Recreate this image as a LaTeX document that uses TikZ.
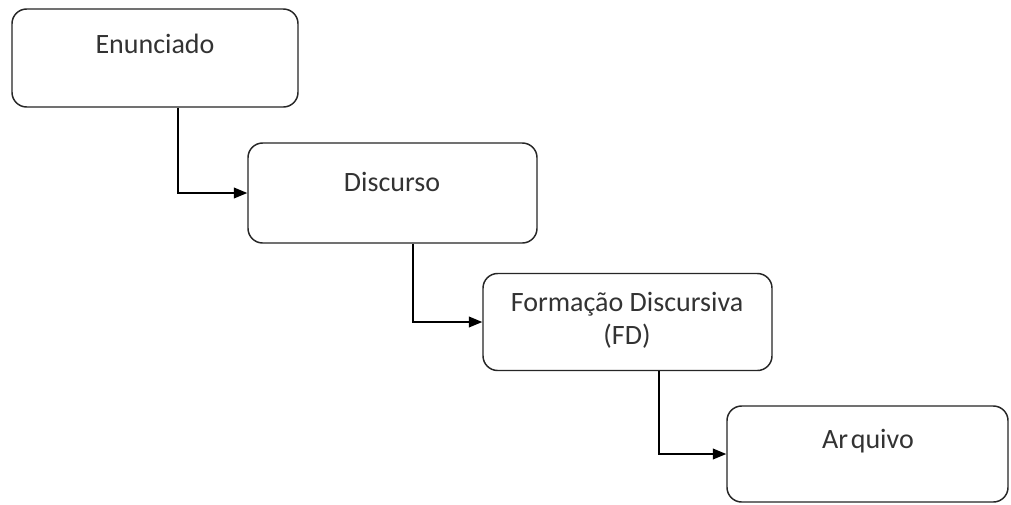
\documentclass[tikz,border=0pt]{standalone}
\usepackage{fontspec}
\setmainfont{Carlito}
\usetikzlibrary{arrows.meta,calc}
\begin{document}
\begin{tikzpicture}[x=0.75pt,y=-0.75pt,
  box/.style={draw=black!85,line width=1.1pt,rounded corners=11pt,inner sep=0pt},
  lbl/.style={font=\fontsize{21}{25}\selectfont,text=black!80,align=center},
  conn/.style={draw=black,line width=1.1pt,-{Triangle[length=10pt,width=8pt]}}]
\useasboundingbox[fill=white] (0,0) rectangle (1011,504);
\node[box,minimum width=286*0.75pt,minimum height=98*0.75pt] (b1) at (155,58) {};
\node[box,minimum width=289*0.75pt,minimum height=100*0.75pt] (b2) at (392.5,193) {};
\node[box,minimum width=289*0.75pt,minimum height=97*0.75pt] (b3) at (627.5,322) {};
\node[box,minimum width=281*0.75pt,minimum height=96*0.75pt] (b4) at (867.5,454) {};
\node[lbl] (t1) at (155,44) {Enunciado};
\node[lbl] (t2) at (392,182) {Discurso};
\node[lbl] (t3) at (627,320) {Formação Discursiva\\(FD)};
\node[lbl] (t4) at (868,441) {Ar\kern2pt quivo};
\draw[conn] (b1.south -| 178,0) |- (b2.west);
\draw[conn] (b2.south -| 413,0) |- (b3.west);
\draw[conn] (b3.south -| 659,0) |- (b4.west);
\end{tikzpicture}
\end{document}
